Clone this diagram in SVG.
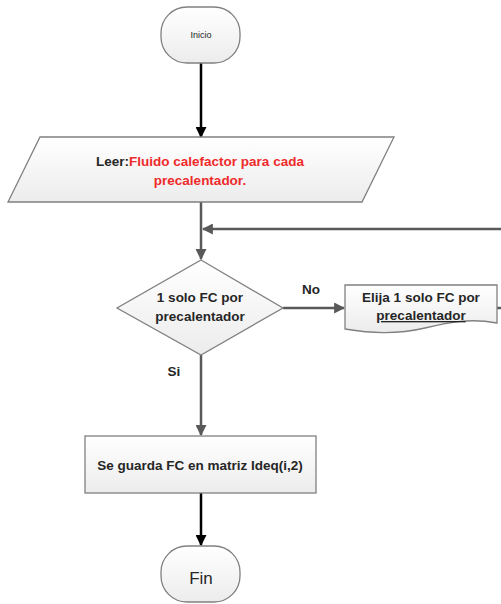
<svg xmlns="http://www.w3.org/2000/svg" width="501" height="604" viewBox="0 0 501 604">
<defs>
<linearGradient id="g" x1="0" y1="0" x2="0" y2="1">
<stop offset="0" stop-color="#ffffff"/>
<stop offset="1" stop-color="#ececec"/>
</linearGradient>
<marker id="ab" viewBox="0 0 10 10" refX="9" refY="5" markerWidth="4.4" markerHeight="4.4" orient="auto" markerUnits="strokeWidth">
<path d="M0,0 L10,5 L0,10 Z" fill="#000"/>
</marker>
<marker id="ag" viewBox="0 0 10 10" refX="9" refY="5" markerWidth="4.4" markerHeight="4.4" orient="auto" markerUnits="strokeWidth">
<path d="M0,0 L10,5 L0,10 Z" fill="#595959"/>
</marker>
</defs>
<style>
.s{fill:url(#g);stroke:#808080;stroke-width:1.3}
.t{font-family:"Liberation Sans",Arial,sans-serif;font-weight:bold;font-size:13.5px;fill:#262626;text-anchor:middle}
.r{fill:#ee2a2a}
.n{font-family:"Liberation Sans",Arial,sans-serif;fill:#262626;text-anchor:middle}
.cb{stroke:#000;stroke-width:2.5;fill:none}
.cg{stroke:#595959;stroke-width:2.5;fill:none}
</style>
<g id="connectors">
<line class="cb" x1="201" y1="63" x2="201" y2="137" marker-end="url(#ab)"/>
<line class="cg" x1="201" y1="202" x2="201" y2="259" marker-end="url(#ag)"/>
<line class="cg" x1="501" y1="229" x2="203" y2="229" marker-end="url(#ag)"/>
<line class="cg" x1="283" y1="308" x2="344" y2="308" marker-end="url(#ag)"/>
<line class="cg" x1="497" y1="308" x2="501" y2="308"/>
<line class="cg" x1="201" y1="355" x2="201" y2="435" marker-end="url(#ag)"/>
<line class="cb" x1="201" y1="493" x2="201" y2="545" marker-end="url(#ab)"/>
<text class="t" x="311" y="294">No</text>
<text class="t" x="174" y="376">Si</text>
</g>
<g id="inicio">
<rect class="s" x="161" y="7" width="79" height="56" rx="26" ry="26"/>
<text class="n" x="201" y="38" font-size="9">Inicio</text>
</g>
<g id="leer">
<path class="s" d="M40,137 L394,137 L362,202 L8,202 Z"/>
<text class="t" x="200" y="166">Leer:<tspan class="r">Fluido calefactor para cada</tspan></text>
<text class="t r" x="200" y="185">precalentador.</text>
</g>
<g id="decision">
<path class="s" d="M201,260 L283,308 L201,355 L117,308 Z"/>
<text class="t" x="200" y="302">1 solo FC por</text>
<text class="t" x="200" y="321">precalentador</text>
</g>
<g id="elija">
<path class="s" d="M345,285 L497,285 L497,323 C470,318 450,322 425,328 C395,335 370,333 345,329 Z"/>
<text class="t" x="421" y="302">Elija 1 solo FC por</text>
<text class="t" x="421" y="320" text-decoration="underline">precalentador</text>
</g>
<g id="guarda">
<rect class="s" x="85" y="436" width="231" height="57"/>
<text class="t" x="200" y="470">Se guarda FC en matriz Ideq(i,2)</text>
</g>
<g id="fin">
<rect class="s" x="161" y="546" width="79" height="56" rx="26" ry="26"/>
<text class="n" x="201" y="584" font-size="17">Fin</text>
</g>
</svg>
